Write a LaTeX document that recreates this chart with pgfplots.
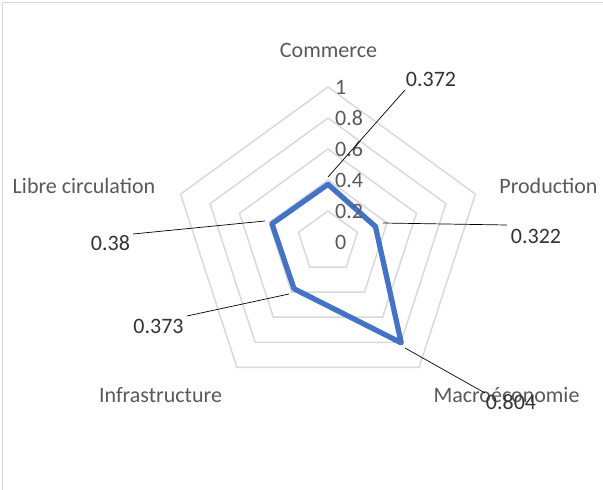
\documentclass[border=0pt]{standalone}
\usepackage{pgfplots}
\pgfplotsset{compat=1.18}
\usepgfplotslibrary{polar}
\usepackage{fontspec}
\setmainfont{Carlito}
\definecolor{gridc}{HTML}{D9D9D9}
\definecolor{txtc}{HTML}{595959}
\definecolor{serie}{HTML}{4472C4}
\begin{document}
\begin{tikzpicture}
\useasboundingbox (0,0) rectangle (603bp,490bp);
\draw[gridc, line width=1.5bp] (2.5bp,0) -- (2.5bp,487.5bp) -- (603bp,487.5bp);
\begin{polaraxis}[
  at={(328bp,248bp)}, anchor=center,
  scale only axis, width=310bp, height=310bp,
  xmin=0, xmax=360, ymin=0, ymax=1,
  hide axis, clip=false,
  every axis plot/.append style={no marks},
  font=\fontsize{22bp}{26bp}\selectfont,
]
% grid pentagons
\foreach \r in {0.2,0.4,0.6,0.8,1.0}{
  \edef\tmp{\noexpand\addplot[gridc, line width=1.5bp, line join=miter] coordinates {(90,\r) (18,\r) (306,\r) (234,\r) (162,\r)} -- cycle;}
  \tmp
}
% data
\addplot[serie, line width=5.3bp, line join=round] coordinates {
  (90,0.372) (18,0.322) (306,0.804) (234,0.373) (162,0.38)
} -- cycle;
% tick labels
\foreach \r/\t in {0/0,0.2/0.2,0.4/0.4,0.6/0.6,0.8/0.8,1/1}{
  \edef\tmp{\noexpand\node[txtc, anchor=west, inner sep=0pt, xshift=7bp] at (axis cs:90,\r) {\t};}
  \tmp
}
% category labels
\node[txtc, inner sep=0pt] at ([shift={(0.5bp,192bp)}]axis cs:0,0) {Commerce};
\node[txtc, inner sep=0pt] at ([shift={(220.5bp,56bp)}]axis cs:0,0) {Production};
\node[txtc, inner sep=0pt] at ([shift={(178.5bp,-153bp)}]axis cs:0,0) {Macroéconomie};
\node[txtc, inner sep=0pt] at ([shift={(-167.5bp,-153bp)}]axis cs:0,0) {Infrastructure};
\node[txtc, inner sep=0pt] at ([shift={(-244bp,56bp)}]axis cs:0,0) {Libre circulation};
% leader lines
\draw[black, line width=0.7bp] ([shift={(0bp,65bp)}]axis cs:0,0) -- ([shift={(77bp,152bp)}]axis cs:0,0);
\draw[black, line width=0.7bp] ([shift={(55bp,19bp)}]axis cs:0,0) -- ([shift={(179bp,17bp)}]axis cs:0,0);
\draw[black, line width=0.7bp] ([shift={(77bp,-106bp)}]axis cs:0,0) -- ([shift={(157bp,-151bp)}]axis cs:0,0);
\draw[black, line width=0.7bp] ([shift={(-39bp,-52bp)}]axis cs:0,0) -- ([shift={(-141bp,-74bp)}]axis cs:0,0);
\draw[black, line width=0.7bp] ([shift={(-63bp,21bp)}]axis cs:0,0) -- ([shift={(-195bp,8bp)}]axis cs:0,0);
% value labels
\node[text=black!80, inner sep=0pt] at ([shift={(103bp,163bp)}]axis cs:0,0) {0.372};
\node[text=black!80, inner sep=0pt] at ([shift={(208bp,6bp)}]axis cs:0,0) {0.322};
\node[text=black!80, inner sep=0pt] at ([shift={(183bp,-160bp)}]axis cs:0,0) {0.804};
\node[text=black!80, inner sep=0pt] at ([shift={(-169.5bp,-84bp)}]axis cs:0,0) {0.373};
\node[text=black!80, inner sep=0pt] at ([shift={(-217.5bp,-1bp)}]axis cs:0,0) {0.38};
\end{polaraxis}
\end{tikzpicture}
\end{document}
